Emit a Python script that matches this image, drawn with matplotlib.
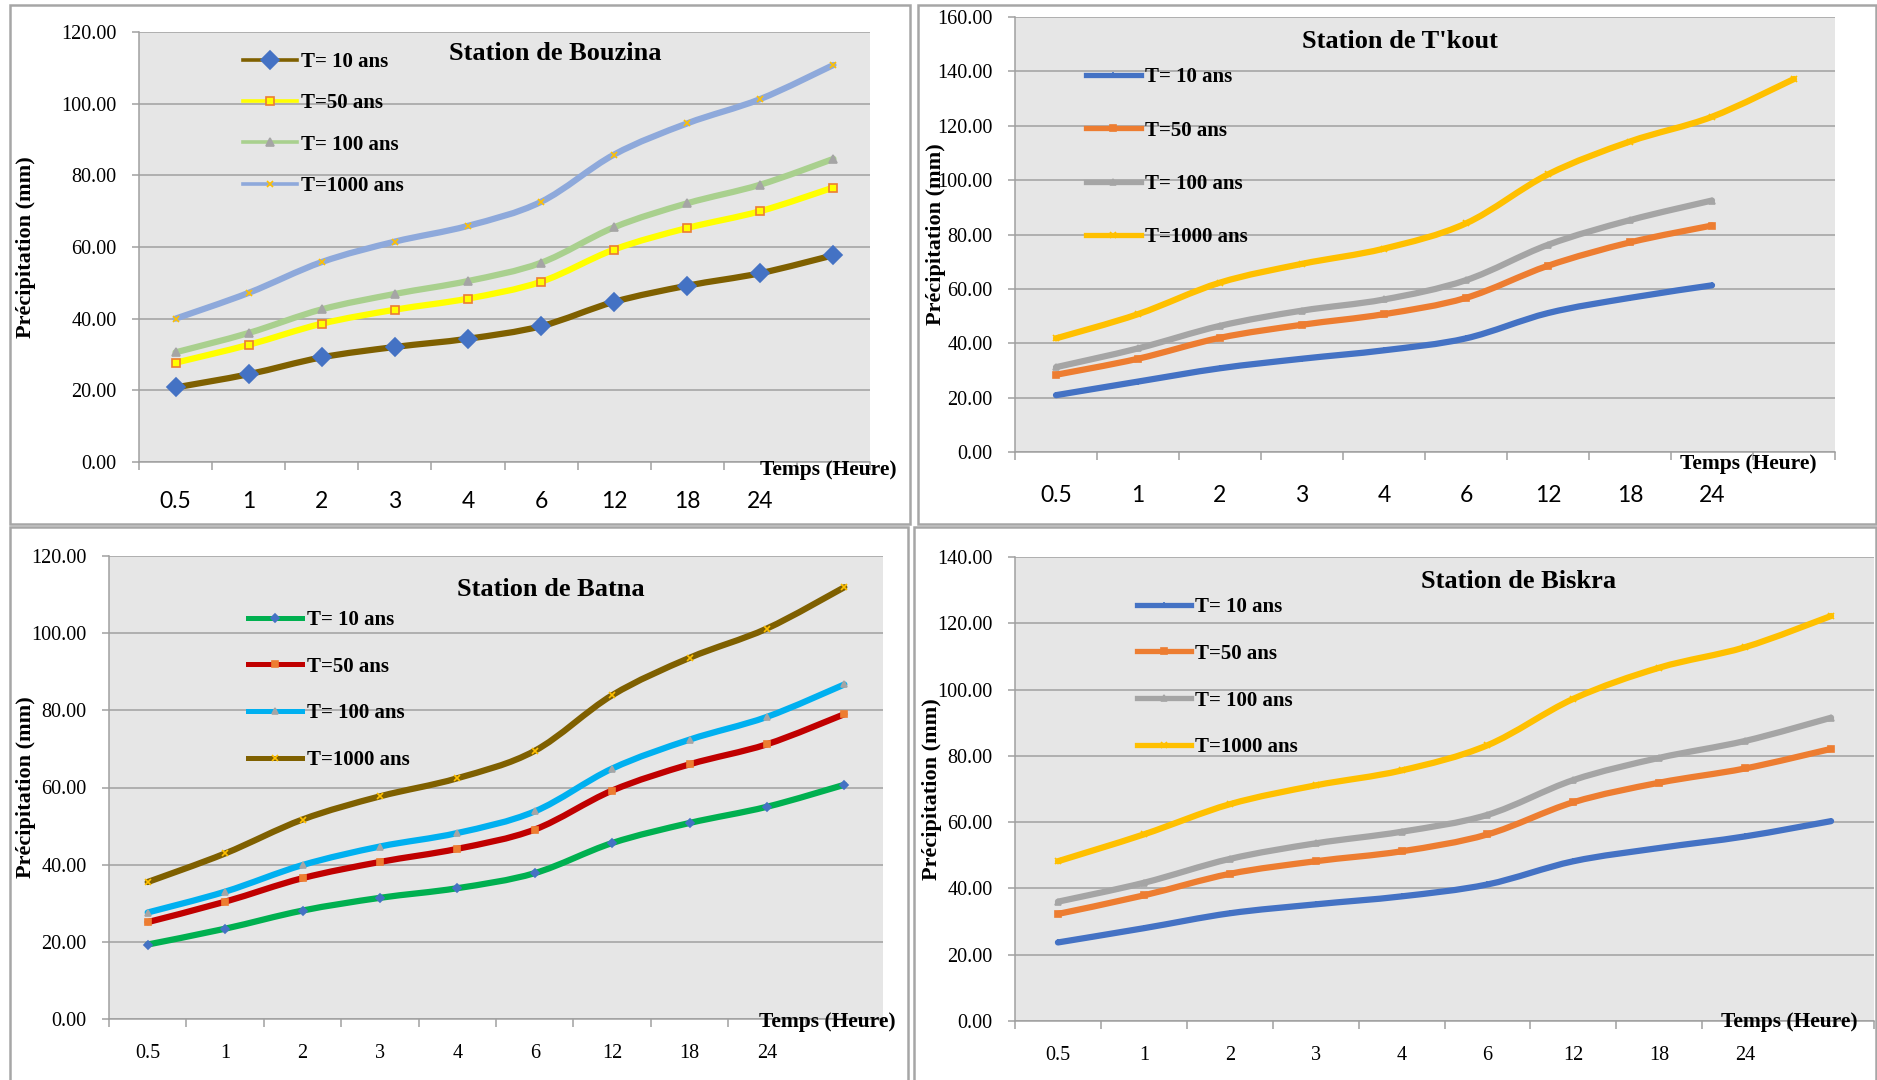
import numpy as np
import matplotlib
matplotlib.use("Agg")
import matplotlib.pyplot as plt
from matplotlib.path import Path
from matplotlib.patches import PathPatch, Rectangle
from matplotlib.lines import Line2D

plt.rcParams['font.family'] = ['Liberation Serif', 'DejaVu Serif']

# durations (hours); the last category has no label
hours = ['0.5', '1', '2', '3', '4', '6', '12', '18', '24', '']
periods = ['T= 10 ans', 'T=50 ans', 'T= 100 ans', 'T=1000 ans']

# precipitation (mm) per return period
bouzina_10 = [20.8, 24.5, 29.2, 32.1, 34.4, 37.9, 44.7, 49.2, 52.7, 57.7]
bouzina_50 = [27.7, 32.7, 38.6, 42.5, 45.6, 50.3, 59.3, 65.3, 70.0, 76.6]
bouzina_100 = [30.6, 36.0, 42.6, 46.9, 50.5, 55.6, 65.5, 72.2, 77.4, 84.6]
bouzina_1000 = [40.0, 47.2, 55.8, 61.5, 65.9, 72.6, 85.8, 94.5, 101.3, 110.8]

tkout_10 = [20.9, 25.9, 30.8, 34.3, 37.4, 41.8, 51.1, 56.7, 61.3]
tkout_50 = [28.4, 34.3, 42.0, 46.8, 50.7, 56.7, 68.5, 77.1, 83.3]
tkout_100 = [31.2, 38.1, 46.4, 52.0, 56.1, 63.2, 76.2, 85.3, 92.5]
tkout_1000 = [41.8, 50.7, 62.3, 69.2, 74.8, 84.1, 102.1, 114.2, 123.3, 137.2]

batna_10 = [19.3, 23.4, 28.1, 31.4, 33.9, 37.8, 45.6, 50.8, 55.0, 60.7]
batna_50 = [25.1, 30.4, 36.5, 40.7, 44.1, 49.1, 59.2, 66.0, 71.2, 79.0]
batna_100 = [27.6, 33.0, 39.9, 44.7, 48.2, 53.8, 64.9, 72.4, 78.3, 86.7]
batna_1000 = [35.5, 42.9, 51.7, 57.7, 62.4, 69.5, 83.9, 93.6, 101.2, 111.9]

biskra_10 = [23.7, 28.0, 32.5, 35.2, 37.6, 41.2, 48.2, 52.2, 55.7, 60.3]
biskra_50 = [32.3, 37.9, 44.4, 48.2, 51.2, 56.3, 66.0, 71.9, 76.2, 82.1]
biskra_100 = [36.0, 41.7, 48.9, 53.6, 57.1, 62.2, 72.7, 79.4, 84.5, 91.5]
biskra_1000 = [48.2, 56.3, 65.4, 71.1, 75.6, 83.2, 97.2, 106.6, 112.8, 122.2]

GRID = '#A0A0A0'
BG = '#E6E6E6'


def smooth_path(y):
    # smoothed line (Catmull-Rom as cubic Bezier segments)
    pts = np.column_stack([np.arange(len(y)), y]).astype(float)
    n = len(pts)
    verts = [pts[0]]
    codes = [Path.MOVETO]
    for i in range(n - 1):
        p0 = pts[max(i - 1, 0)]
        p1 = pts[i]
        p2 = pts[i + 1]
        p3 = pts[min(i + 2, n - 1)]
        verts += [p1 + (p2 - p0) / 6, p2 - (p3 - p1) / 6, p2]
        codes += [Path.CURVE4] * 3
    return Path(verts, codes)


def panel(rect, title, series, styles, ymax, title_xy, leg_xy, leg_space, leg_lw,
          ylab_x, xlab_xy, xfont, xpad):
    ax = fig.add_axes(rect)
    ax.set_facecolor(BG)
    ax.set_xlim(-0.5, len(hours) - 0.5)
    ax.set_ylim(0, ymax)
    ax.set_yticks(np.arange(0, ymax + 1, 20))
    ax.set_yticklabels(['%.2f' % v for v in np.arange(0, ymax + 1, 20)], fontsize=14.5)
    ax.yaxis.grid(True, color=GRID, lw=1.1)
    ax.set_axisbelow(True)
    for s in ['top', 'right']:
        ax.spines[s].set_visible(False)
    for s in ['left', 'bottom']:
        ax.spines[s].set_color(GRID)
        ax.spines[s].set_linewidth(1.1)
    ax.tick_params(axis='y', length=5, width=1.1, color=GRID, pad=11)
    # category ticks between labels
    ax.set_xticks(np.arange(-0.5, len(hours), 1.0))
    ax.set_xticklabels([])
    ax.set_xticks(np.arange(len(hours)), minor=True)
    ax.set_xticklabels(hours, minor=True, fontsize=xfont[1], family=xfont[0])
    ax.tick_params(axis='x', which='major', length=6, width=1.1, color=GRID)
    ax.tick_params(axis='x', which='minor', length=0, pad=xpad)

    handles = []
    for y, st, lab in zip(series, styles, periods):
        color, marker, ms, mfc, mec = st
        ax.add_patch(PathPatch(smooth_path(y), fill=False, edgecolor=color, lw=4.5,
                               capstyle='round', joinstyle='round', zorder=3))
        ax.plot(np.arange(len(y)), y, ls='none', marker=marker, ms=ms, mfc=mfc,
                mec=mec, mew=1.2, zorder=4)
        handles.append(Line2D([], [], color=color, lw=leg_lw, marker=marker, ms=ms,
                              mfc=mfc, mec=mec, mew=1.2, label=lab))

    fs = 15
    ls = (leg_space / (fs * 100 / 72) - 0.9)
    ax.legend(handles=handles, loc='upper left', bbox_to_anchor=leg_xy,
              frameon=False, borderpad=0, borderaxespad=0, handlelength=2.6,
              handletextpad=0.2, labelspacing=ls, numpoints=1,
              prop={'family': 'Liberation Serif', 'weight': 'bold', 'size': fs})

    ax.text(title_xy[0], title_xy[1], title, transform=ax.transAxes, ha='center',
            va='center', fontsize=19, fontweight='bold')
    ax.set_ylabel('Précipitation (mm)', fontsize=16, fontweight='bold')
    ax.yaxis.label.set_va('center')
    ax.yaxis.set_label_coords(ylab_x, 0.5)
    ax.text(xlab_xy[0], xlab_xy[1], 'Temps (Heure)', transform=ax.transAxes,
            ha='right', va='center', fontsize=15.5, fontweight='bold')
    return ax


fig = plt.figure(figsize=(18.77, 10.80), dpi=100)
W, H = 1877.0, 1080.0


def frac(x0, y0, x1, y1):
    return [x0 / W, 1 - y1 / H, (x1 - x0) / W, (y1 - y0) / H]


# panel frames
for x0, y0, x1, y1 in [(10, 5, 910, 524), (918, 5, 1876, 524),
                       (10, 527, 908, 1090), (914, 527, 1876, 1090)]:
    fig.add_artist(Rectangle((x0 / W, 1 - y1 / H), (x1 - x0) / W, (y1 - y0) / H,
                             transform=fig.transFigure, fill=False,
                             edgecolor='#A6A6A6', lw=1.8))

sty_bouzina = [('#7F6000', 'D', 9, '#4472C4', '#4472C4'),
               ('#FFFF00', 's', 5.5, '#FFFF00', '#ED7D31'),
               ('#A9D08E', '^', 5.5, '#A5A5A5', '#A5A5A5'),
               ('#8EA9DB', 'x', 5, '#FFC000', '#FFC000')]
sty_office = [('#4472C4', '+', 4, '#4472C4', '#4472C4'),
              ('#ED7D31', 's', 4, '#ED7D31', '#ED7D31'),
              ('#A5A5A5', '^', 4, '#A5A5A5', '#A5A5A5'),
              ('#FFC000', 'x', 4, '#FFC000', '#FFC000')]
sty_batna = [('#00B050', 'D', 4.5, '#4472C4', '#4472C4'),
             ('#C00000', 's', 4.5, '#ED7D31', '#ED7D31'),
             ('#00B0F0', '^', 4.5, '#A5A5A5', '#A5A5A5'),
             ('#7F6000', 'x', 4.5, '#FFC000', '#FFC000')]

panel(frac(139, 32, 870, 462), 'Station de Bouzina',
      [bouzina_10, bouzina_50, bouzina_100, bouzina_1000], sty_bouzina, 120,
      (0.570, 0.951), (0.142, 0.953), 40, 2.6, -0.155, (1.036, -0.019), ('Lato', 16.5), 21)

panel(frac(1015, 17, 1835, 452), "Station de T'kout",
      [tkout_10, tkout_50, tkout_100, tkout_1000], sty_office, 160,
      (0.470, 0.943), (0.087, 0.884), 52, 3.8, -0.096, (0.977, -0.028), ('Lato', 16.5), 24)

panel(frac(109, 556, 883, 1019), 'Station de Batna',
      [batna_10, batna_50, batna_100, batna_1000], sty_batna, 120,
      (0.571, 0.927), (0.180, 0.883), 45.3, 3.6, -0.107, (1.016, -0.006),
      ('Liberation Serif', 14.5), 18)

panel(frac(1015, 557, 1874, 1021), 'Station de Biskra',
      [biskra_10, biskra_50, biskra_100, biskra_1000], sty_office, 140,
      (0.586, 0.948), (0.142, 0.914), 45.6, 3.8, -0.097, (0.981, -0.002),
      ('Liberation Serif', 14.5), 18)

fig.savefig('out.png', dpi=100)
